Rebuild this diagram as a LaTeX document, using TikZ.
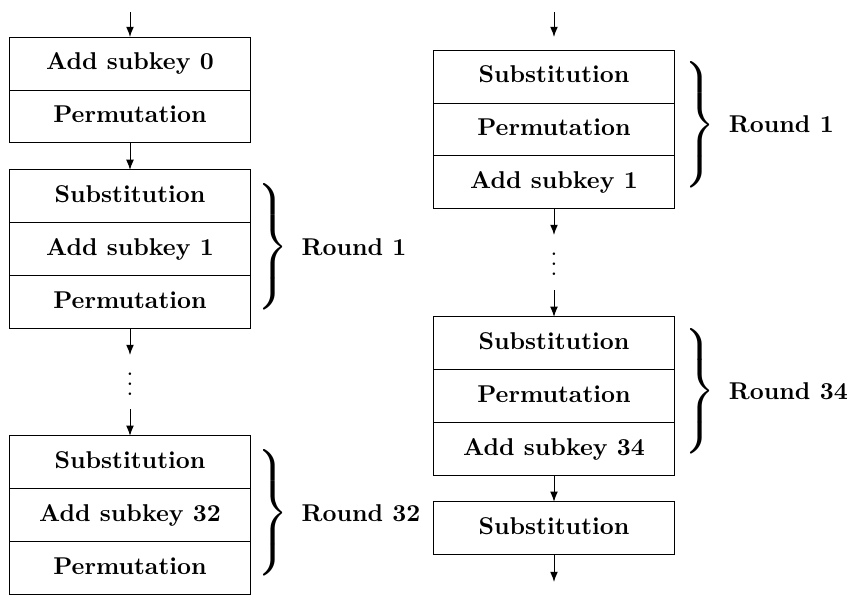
\documentclass[tikz,border=0pt]{standalone}
\usepackage{amsmath}
\usetikzlibrary{arrows.meta, positioning}

\begin{document}
\begin{tikzpicture}[
    x=0.4115pt, y=-0.4115pt,
    node distance=0pt,
    cell/.style={draw, minimum width=98.8pt, minimum height=21.8pt, inner sep=0pt, outer sep=0pt,
      text height=7pt, text depth=2pt, font=\bfseries},
    arrow/.style={-{Latex[length=4.2pt, width=3.2pt]}},
    roundbrace/.style={inner sep=0pt, outer sep=0pt, font=\Large},
    roundlabel/.style={font=\bfseries, anchor=west, inner sep=0pt},
    gapdots/.style={inner sep=0pt}
]
\useasboundingbox (0,0) rectangle (849,595);

% Left column
\node[cell] (L0a) at (130,63.5) {Add subkey 0};
\node[cell, below=of L0a] (L0b) {Permutation};

\node[cell, below=11.1pt of L0b] (L1a) {Substitution};
\node[cell, below=of L1a] (L1b) {Add subkey 1};
\node[cell, below=of L1b] (L1c) {Permutation};

\node[cell, below=44pt of L1c] (L32a) {Substitution};
\node[cell, below=of L32a] (L32b) {Add subkey 32};
\node[cell, below=of L32b] (L32c) {Permutation};

\coordinate (Lin) at (130,12);
\coordinate (Lgap1) at (130,355);
\coordinate (Lgap2) at (130,409);
\node[gapdots] (Ldots) at (130,377) {$\vdots$};

% Right column
\node[cell] (R1a) at (554,76.5) {Substitution};
\node[cell, below=of R1a] (R1b) {Permutation};
\node[cell, below=of R1b] (R1c) {Add subkey 1};

\node[cell, below=44.4pt of R1c] (R34a) {Substitution};
\node[cell, below=of R34a] (R34b) {Permutation};
\node[cell, below=of R34b] (R34c) {Add subkey 34};

\node[cell, below=10.7pt of R34c] (Rend) {Substitution};

\coordinate (Rin) at (554,12);
\coordinate (Rinend) at (554,37);
\coordinate (Rgap1) at (554,235);
\coordinate (Rgap2) at (554,290);
\coordinate (Rout) at (554,582);
\node[gapdots] (Rdots) at (554,257) {$\vdots$};

% Braces
\node[roundbrace, anchor=west, xshift=2pt, yshift=1pt] (L1br) at (L1b.east) {$\left.\vrule height 21.5pt depth 21.5pt width 0pt\right\}$};
\node[roundlabel, right=5pt of L1br.east] {Round 1};
\node[roundbrace, anchor=west, xshift=2pt, yshift=1pt] (L32br) at (L32b.east) {$\left.\vrule height 21.5pt depth 21.5pt width 0pt\right\}$};
\node[roundlabel, right=5pt of L32br.east] {Round 32};
\node[roundbrace, anchor=west, xshift=2.9pt, yshift=2pt] (R1br) at (R1b.east) {$\left.\vrule height 21.5pt depth 21.5pt width 0pt\right\}$};
\node[roundlabel, right=5.5pt of R1br.east] {Round 1};
\node[roundbrace, anchor=west, xshift=2.9pt, yshift=2pt] (R34br) at (R34b.east) {$\left.\vrule height 21.5pt depth 21.5pt width 0pt\right\}$};
\node[roundlabel, right=5.5pt of R34br.east] {Round 34};

% Arrows
\draw[arrow] (Lin) -- (L0a.north);
\draw[arrow] (L0b.south) -- (L1a.north);
\draw[arrow] (L1c.south) -- (Lgap1);
\draw[arrow] (Lgap2) -- (L32a.north);

\draw[arrow] (Rin) -- (Rinend);
\draw[arrow] (R1c.south) -- (Rgap1);
\draw[arrow] (Rgap2) -- (R34a.north);
\draw[arrow] (R34c.south) -- (Rend.north);
\draw[arrow] (Rend.south) -- (Rout);

\end{tikzpicture}
\end{document}
